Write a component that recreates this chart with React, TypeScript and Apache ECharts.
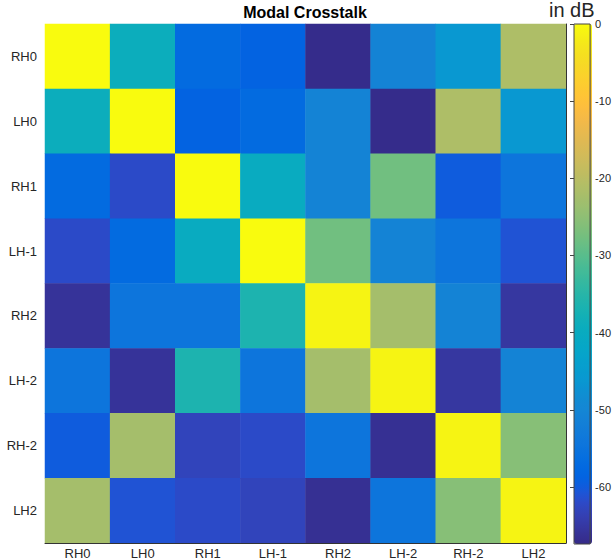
import React, { useEffect, useRef } from "react";
import * as echarts from "echarts";

const categories = ["RH0", "LH0", "RH1", "LH-1", "RH2", "LH-2", "RH-2", "LH2"];

const rowRH0 = [0, -39.1, -57.2, -58.8, -67, -50.8, -46, -21.4];
const rowLH0 = [-39.1, 0, -58.8, -57.2, -50.8, -67, -21.4, -46];
const rowRH1 = [-57.2, -62, 0, -40, -50.8, -27.8, -59.9, -54.6];
const rowLH_1 = [-62, -57.2, -40, 0, -27.8, -50.8, -54.6, -61];
const rowRH2 = [-65.8, -54.6, -54.6, -36.4, -1, -22.5, -50.8, -65.3];
const rowLH_2 = [-54.6, -65.8, -36.4, -54.6, -22.5, -1, -65.3, -50.8];
const rowRH_2 = [-59.9, -22.5, -63, -62, -54.6, -66.3, -1, -25.7];
const rowLH2 = [-22.5, -61, -62, -63, -66.3, -54.6, -25.7, -1];

const rows = [rowRH0, rowLH0, rowRH1, rowLH_1, rowRH2, rowLH_2, rowRH_2, rowLH2];

const colorbarMin = -67.4;
const colorbarMax = 0;
const colorbarTicks = [0, -10, -20, -30, -40, -50, -60];

const parula = [
  [0.2081, 0.1663, 0.5292], [0.2116, 0.1898, 0.5777], [0.2123, 0.2138, 0.627], [0.2081, 0.2386, 0.6771],
  [0.1959, 0.2645, 0.7279], [0.1707, 0.2919, 0.7792], [0.1253, 0.3242, 0.8303], [0.0591, 0.3598, 0.8683],
  [0.0117, 0.3875, 0.882], [0.006, 0.4086, 0.8828], [0.0165, 0.4266, 0.8786], [0.0329, 0.443, 0.872],
  [0.0498, 0.4586, 0.8641], [0.0629, 0.4737, 0.8554], [0.0723, 0.4887, 0.8467], [0.0779, 0.504, 0.8384],
  [0.0793, 0.52, 0.8312], [0.0749, 0.5375, 0.8263], [0.0641, 0.557, 0.824], [0.0488, 0.5772, 0.8228],
  [0.0343, 0.5966, 0.8199], [0.0265, 0.6137, 0.8135], [0.0239, 0.6287, 0.8038], [0.0231, 0.6418, 0.7913],
  [0.0228, 0.6535, 0.7768], [0.0267, 0.6642, 0.7607], [0.0384, 0.6743, 0.7436], [0.059, 0.6838, 0.7254],
  [0.0843, 0.6928, 0.7062], [0.1133, 0.7015, 0.6859], [0.1453, 0.7098, 0.6646], [0.1801, 0.7177, 0.6424],
  [0.2178, 0.725, 0.6193], [0.2586, 0.7317, 0.5954], [0.3022, 0.7376, 0.5712], [0.3482, 0.7424, 0.5473],
  [0.3953, 0.7459, 0.5244], [0.442, 0.7481, 0.5033], [0.4871, 0.7491, 0.484], [0.53, 0.7491, 0.4661],
  [0.5709, 0.7485, 0.4494], [0.6099, 0.7473, 0.4337], [0.6473, 0.7456, 0.4188], [0.6834, 0.7435, 0.4044],
  [0.7184, 0.7411, 0.3905], [0.7525, 0.7384, 0.3768], [0.7858, 0.7356, 0.3633], [0.8185, 0.7327, 0.3498],
  [0.8507, 0.7299, 0.336], [0.8824, 0.7274, 0.3217], [0.9139, 0.7258, 0.3063], [0.945, 0.7261, 0.2886],
  [0.9739, 0.7314, 0.2666], [0.9938, 0.7455, 0.2403], [0.999, 0.7653, 0.2164], [0.9955, 0.7861, 0.1967],
  [0.988, 0.8066, 0.1794], [0.9789, 0.8271, 0.1633], [0.9697, 0.8481, 0.1475], [0.9626, 0.8705, 0.1309],
  [0.9589, 0.8949, 0.1132], [0.9598, 0.9218, 0.0948], [0.9661, 0.9514, 0.0755], [0.9763, 0.9831, 0.0538],
];

const parulaHex = parula.map(
  (c) =>
    "#" +
    c
      .map((v) => Math.round(v * 255).toString(16).padStart(2, "0"))
      .join("")
);

const FONT = "Liberation Sans, Arial, Helvetica, sans-serif";
const TEXT = "#262626";

export default function App() {
  const ref = useRef<HTMLDivElement>(null);

  useEffect(() => {
    if (!ref.current) return;
    const chart = echarts.init(ref.current, undefined, { renderer: "svg" });

    const data: [number, number, number][] = [];
    rows.forEach((row, y) => row.forEach((v, x) => data.push([x, y, v])));

    chart.setOption({
      animation: false,
      backgroundColor: "#ffffff",
      textStyle: { fontFamily: FONT },
      title: [
        {
          text: "Modal Crosstalk",
          left: 305,
          top: 4,
          padding: 0,
          textAlign: "center",
          textStyle: { fontSize: 16, fontWeight: "bold", color: "#000", fontFamily: FONT },
        },
        {
          text: "in dB",
          left: 549,
          top: 0,
          padding: 0,
          textStyle: { fontSize: 20, fontWeight: "normal", color: TEXT, fontFamily: FONT },
        },
      ],
      grid: [
        { left: 45, top: 24, width: 521, height: 520, show: false },
        {
          left: 574,
          top: 24,
          width: 18,
          height: 520,
          show: true,
          z: 10,
          backgroundColor: "transparent",
          borderColor: "#444",
          borderWidth: 1,
        },
      ],
      xAxis: [
        {
          type: "category",
          gridIndex: 0,
          data: categories,
          position: "bottom",
          axisLine: { show: true, lineStyle: { color: "#333", width: 1 } },
          axisTick: { show: false },
          axisLabel: { color: TEXT, fontSize: 13, margin: 4, fontFamily: FONT },
          splitLine: { show: false },
          z: 10,
        },
        {
          type: "value",
          gridIndex: 1,
          show: false,
        },
      ],
      yAxis: [
        {
          type: "category",
          gridIndex: 0,
          data: categories,
          inverse: true,
          axisLine: { show: false },
          axisTick: { show: false },
          axisLabel: { color: TEXT, fontSize: 13, margin: 8, fontFamily: FONT },
          splitLine: { show: false },
        },
        {
          type: "category",
          gridIndex: 0,
          data: categories,
          inverse: true,
          position: "right",
          axisLine: { show: true, lineStyle: { color: "#333", width: 1 } },
          axisTick: { show: false },
          axisLabel: { show: false },
          splitLine: { show: false },
          z: 10,
        },
        {
          type: "value",
          gridIndex: 1,
          position: "right",
          min: colorbarMin,
          max: colorbarMax,
          axisLine: { show: false },
          axisTick: {
            show: true,
            inside: true,
            length: 4,
            lineStyle: { color: "#444" },
            customValues: colorbarTicks,
          },
          axisLabel: {
            color: TEXT,
            fontSize: 11,
            margin: 5,
            fontFamily: FONT,
            customValues: colorbarTicks,
          },
          splitLine: { show: false },
          z: 12,
        },
      ],
      visualMap: {
        type: "continuous",
        seriesIndex: 0,
        min: colorbarMin,
        max: colorbarMax,
        orient: "vertical",
        left: 574,
        top: 24,
        padding: 0,
        itemWidth: 18,
        itemHeight: 520,
        calculable: false,
        hoverLink: false,
        realtime: false,
        text: null,
        showLabel: false,
        inRange: { color: parulaHex },
      },
      series: [
        {
          type: "heatmap",
          xAxisIndex: 0,
          yAxisIndex: 0,
          data,
          itemStyle: { borderWidth: 0 },
          emphasis: { disabled: true },
          progressive: 0,
        },
      ],
    });

    return () => chart.dispose();
  }, []);

  return (
    <div
      ref={ref}
      style={{ position: "fixed", left: 0, top: 0, width: 614, height: 560 }}
    />
  );
}
